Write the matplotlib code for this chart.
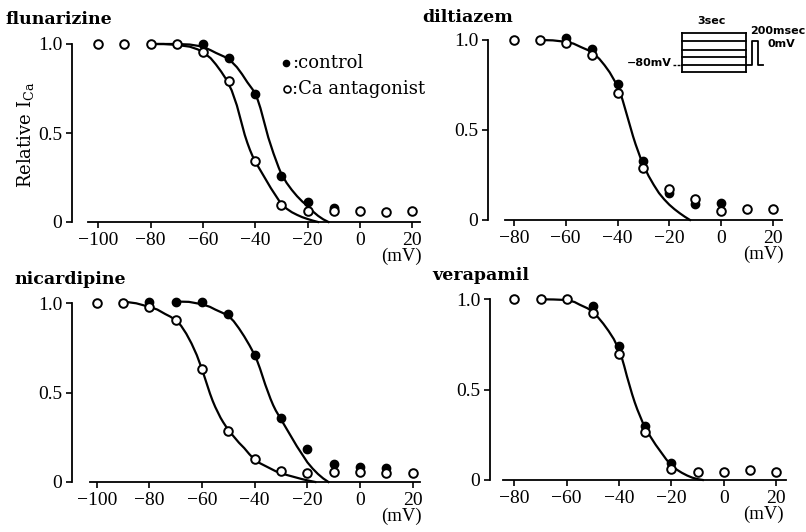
import matplotlib
matplotlib.use('Agg')
import matplotlib.pyplot as plt

# ---- data ----
# flunarizine
flu_ctrl_v = [-60, -50, -40, -30, -20, -10]
flu_ctrl_i = [1.0, 0.92, 0.72, 0.26, 0.11, 0.08]
flu_ant_v = [-100, -90, -80, -70, -60, -50, -40, -30, -20, -10, 0, 10, 20]
flu_ant_i = [1.0, 1.0, 1.0, 1.0, 0.955, 0.79, 0.34, 0.095, 0.06, 0.06, 0.06, 0.055, 0.06]
flu_fit_ctrl_v = [-80, -70, -65, -62, -60, -57, -55, -52, -50, -47, -45, -43, -42, -41, -40, -39, -38, -37,
                  -36, -35, -34, -33, -32, -31, -30, -28, -26, -24, -22, -20, -18, -16, -14, -12]
flu_fit_ctrl_i = [1.0, 1.0, 0.997, 0.99, 0.985, 0.965, 0.95, 0.93, 0.915, 0.87, 0.83, 0.785, 0.765, 0.745, 0.72,
                  0.685, 0.64, 0.585, 0.53, 0.475, 0.43, 0.385, 0.345, 0.305, 0.27, 0.22, 0.18, 0.145, 0.115,
                  0.09, 0.06, 0.035, 0.015, 0.0]
flu_fit_ant_v = [-80, -75, -70, -65, -62, -60, -57, -55, -53, -51, -49, -47, -46, -45, -44, -43, -42, -41, -40,
                 -38, -36, -34, -32, -30, -28, -26, -24, -22, -20, -18, -16]
flu_fit_ant_i = [1.0, 1.0, 0.995, 0.985, 0.97, 0.955, 0.92, 0.885, 0.845, 0.80, 0.74, 0.655, 0.60, 0.545, 0.49,
                 0.445, 0.405, 0.37, 0.34, 0.29, 0.24, 0.19, 0.145, 0.10, 0.075, 0.055, 0.04, 0.027, 0.017,
                 0.008, 0.0]

# diltiazem
dil_ctrl_v = [-60, -50, -40, -30, -20, -10, 0]
dil_ctrl_i = [1.01, 0.95, 0.755, 0.33, 0.15, 0.09, 0.095]
dil_ant_v = [-80, -70, -60, -50, -40, -30, -20, -10, 0, 10, 20]
dil_ant_i = [1.0, 1.0, 0.985, 0.915, 0.705, 0.29, 0.175, 0.115, 0.052, 0.06, 0.06]
dil_fit_v = [-70, -65, -60, -57, -54, -50, -47, -45, -43, -41, -40, -39, -38, -37, -36, -35, -34, -33, -32,
             -31, -30, -28, -26, -24, -22, -20, -18, -16, -14, -12]
dil_fit_i = [1.0, 0.998, 0.99, 0.98, 0.96, 0.935, 0.895, 0.86, 0.82, 0.77, 0.745, 0.71, 0.665, 0.615, 0.565,
             0.515, 0.465, 0.42, 0.38, 0.34, 0.305, 0.245, 0.195, 0.15, 0.115, 0.085, 0.06, 0.038, 0.018, 0.0]

# nicardipine
nic_ctrl_v = [-80, -70, -60, -50, -40, -30, -20, -10, 0, 10]
nic_ctrl_i = [1.01, 1.01, 1.01, 0.94, 0.71, 0.36, 0.185, 0.10, 0.086, 0.077]
nic_ant_v = [-100, -90, -80, -70, -60, -50, -40, -30, -20, -10, 0, 10, 20]
nic_ant_i = [1.0, 1.0, 0.98, 0.905, 0.63, 0.287, 0.127, 0.062, 0.049, 0.057, 0.057, 0.05, 0.052]
nic_fit_ctrl_v = [-70, -65, -62, -60, -57, -55, -52, -50, -48, -46, -44, -42, -40, -39, -38, -37, -36, -35,
                  -34, -33, -32, -30, -28, -26, -24, -22, -20, -18, -16, -14, -12]
nic_fit_ctrl_i = [1.01, 1.008, 1.0, 0.995, 0.98, 0.965, 0.945, 0.93, 0.90, 0.86, 0.815, 0.765, 0.71, 0.675,
                  0.635, 0.59, 0.545, 0.505, 0.465, 0.43, 0.40, 0.35, 0.30, 0.25, 0.20, 0.155, 0.11, 0.075,
                  0.045, 0.02, 0.0]
nic_fit_ant_v = [-90, -85, -80, -77, -74, -72, -70, -68, -66, -64, -62, -61, -60, -59, -58, -57, -56, -55, -54,
                 -53, -52, -50, -48, -46, -44, -42, -40, -38, -36, -34, -32, -30, -28, -25, -22, -19, -17]
nic_fit_ant_i = [1.01, 1.0, 0.98, 0.965, 0.94, 0.925, 0.905, 0.875, 0.83, 0.775, 0.71, 0.67, 0.63, 0.585, 0.54,
                 0.495, 0.455, 0.42, 0.39, 0.36, 0.335, 0.29, 0.255, 0.22, 0.19, 0.155, 0.125, 0.105, 0.09,
                 0.075, 0.06, 0.05, 0.04, 0.028, 0.016, 0.006, 0.0]

# verapamil
ver_ctrl_v = [-50, -40, -30, -20]
ver_ctrl_i = [0.963, 0.74, 0.30, 0.092]
ver_ant_v = [-80, -70, -60, -50, -40, -30, -20, -10, 0, 10, 20]
ver_ant_i = [1.0, 1.0, 1.0, 0.926, 0.695, 0.264, 0.06, 0.046, 0.046, 0.055, 0.046]
ver_fit_v = [-70, -65, -60, -57, -55, -52, -50, -48, -46, -44, -42, -41, -40, -39, -38, -37, -36, -35, -34,
             -33, -32, -31, -30, -28, -26, -24, -22, -20, -18, -16, -14, -12, -10, -8]
ver_fit_i = [1.0, 0.999, 0.996, 0.985, 0.97, 0.95, 0.93, 0.90, 0.865, 0.825, 0.78, 0.75, 0.72, 0.68, 0.63,
             0.575, 0.525, 0.475, 0.43, 0.39, 0.355, 0.32, 0.29, 0.24, 0.195, 0.155, 0.115, 0.08, 0.058,
             0.04, 0.025, 0.013, 0.005, 0.0]

xticks_wide = [-100, -80, -60, -40, -20, 0, 20]
xticks_narrow = [-80, -60, -40, -20, 0, 20]
yticks = [0, 0.5, 1.0]
ytick_labels = ['0', '0.5', '1.0']

W, H = 806, 532
plt.rcParams['font.family'] = ['Liberation Serif', 'DejaVu Serif']
plt.rcParams['mathtext.fontset'] = 'dejavuserif'
fig = plt.figure(figsize=(W / 100, H / 100), dpi=100)


def make_ax(left_px, right_px, left_mv, scale, y0_px, y1_px, xbounds, xticks, ymax=1.12):
    right_mv = left_mv + (right_px - left_px) / scale
    top_px = y0_px - ymax * (y0_px - y1_px)
    ax = fig.add_axes([left_px / W, (H - y0_px) / H, (right_px - left_px) / W, (y0_px - top_px) / H])
    ax.set_xlim(left_mv, right_mv)
    ax.set_ylim(0, ymax)
    for s in ['top', 'right']:
        ax.spines[s].set_visible(False)
    ax.spines['left'].set_bounds(0, 1)
    ax.spines['bottom'].set_bounds(*xbounds)
    for s in ['left', 'bottom']:
        ax.spines[s].set_linewidth(1.3)
    ax.set_xticks(xticks)
    ax.set_xticklabels([str(t).replace('-', '\u2212') for t in xticks])
    ax.set_yticks(yticks)
    ax.set_yticklabels(ytick_labels)
    ax.tick_params(direction='out', length=4, width=1.2, labelsize=14, pad=3)
    ax.patch.set_alpha(0)
    return ax


def draw(ax, ctrl, ant, fits):
    for fv, fi in fits:
        ax.plot(fv, fi, color='black', lw=1.6, clip_on=False, zorder=2, solid_joinstyle='round')
    ax.plot(ctrl[0], ctrl[1], 'o', color='black', ms=6, clip_on=False, zorder=3)
    ax.plot(ant[0], ant[1], 'o', mfc='white', mec='black', mew=1.4, ms=6.2, clip_on=False, zorder=4)


ax1 = make_ax(72, 422, -110, 2.617, 222, 44, (-104, 23), xticks_wide)
draw(ax1, (flu_ctrl_v, flu_ctrl_i), (flu_ant_v, flu_ant_i),
     [(flu_fit_ctrl_v, flu_fit_ctrl_i), (flu_fit_ant_v, flu_fit_ant_i)])

ax2 = make_ax(488, 784, -90, 2.59, 220, 40, (-83.5, 23.5), xticks_narrow)
draw(ax2, (dil_ctrl_v, dil_ctrl_i), (dil_ant_v, dil_ant_i), [(dil_fit_v, dil_fit_i)])

ax3 = make_ax(72, 422, -109.4, 2.633, 482, 303.3, (-102.5, 22.8), xticks_wide)
draw(ax3, (nic_ctrl_v, nic_ctrl_i), (nic_ant_v, nic_ant_i),
     [(nic_fit_ctrl_v, nic_fit_ctrl_i), (nic_fit_ant_v, nic_fit_ant_i)])

ax4 = make_ax(490, 786, -89.3, 2.617, 480, 299.3, (-84.2, 23.9), xticks_narrow)
draw(ax4, (ver_ctrl_v, ver_ctrl_i), (ver_ant_v, ver_ant_i), [(ver_fit_v, ver_fit_i)])

# ---- overlay in pixel coordinates for labels, legend and inset ----
ov = fig.add_axes([0, 0, 1, 1])
ov.set_xlim(0, W)
ov.set_ylim(H, 0)
ov.axis('off')

title_kw = dict(family='DejaVu Serif', weight='bold', fontsize=12.5, va='center', ha='left')
ov.text(5, 19, 'flunarizine', **title_kw)
ov.text(422, 17, 'diltiazem', **title_kw)
ov.text(14, 279, 'nicardipine', **title_kw)
ov.text(432, 276, 'verapamil', **title_kw)

ov.text(25, 135, r'Relative I$_\mathregular{Ca}$', family='DejaVu Serif', fontsize=13,
        rotation=90, ha='center', va='center')

for xc, yc in [(401, 256), (763, 254), (401, 516), (763, 514)]:
    ov.text(xc, yc, '(mV)', fontsize=13.5, ha='center', va='center')

# legend
ov.plot([286], [63], 'o', color='black', ms=4.5)
ov.plot([287], [89], 'o', mfc='white', mec='black', mew=1.2, ms=5)
ov.text(292, 63, ':control', family='DejaVu Serif', fontsize=13, va='center', ha='left')
ov.text(292, 89, ':Ca antagonist', family='DejaVu Serif', fontsize=13, va='center', ha='left')

# inset: pulse protocol
box_l, box_r = 682, 746
box_lines = [33.3, 41, 49.5, 57.3, 65, 71.7]
for yl in box_lines:
    ov.plot([box_l, box_r], [yl, yl], color='black', lw=1.3)
ov.plot([box_l, box_l], [box_lines[0], box_lines[-1]], color='black', lw=1.3)
ov.plot([box_r, box_r], [box_lines[0], box_lines[-1]], color='black', lw=1.3)
ov.plot([673, box_l], [64.5, 64.5], color='black', lw=1.0, ls=(0, (2, 1)))
ov.plot([box_r, 751.5, 751.5, 757.5, 757.5, 763], [64.5, 64.5, 41, 41, 64.5, 64.5], color='black', lw=1.3)
ins_kw = dict(family='DejaVu Sans', weight='bold', fontsize=8, va='center')
ov.text(712, 21, '3sec', ha='center', **ins_kw)
ov.text(750, 31, '200msec', ha='left', **ins_kw)
ov.text(768, 44, '0mV', ha='left', **ins_kw)
ov.text(672, 63, '\u221280mV', ha='right', **ins_kw)

fig.savefig('out.png', dpi=100)
